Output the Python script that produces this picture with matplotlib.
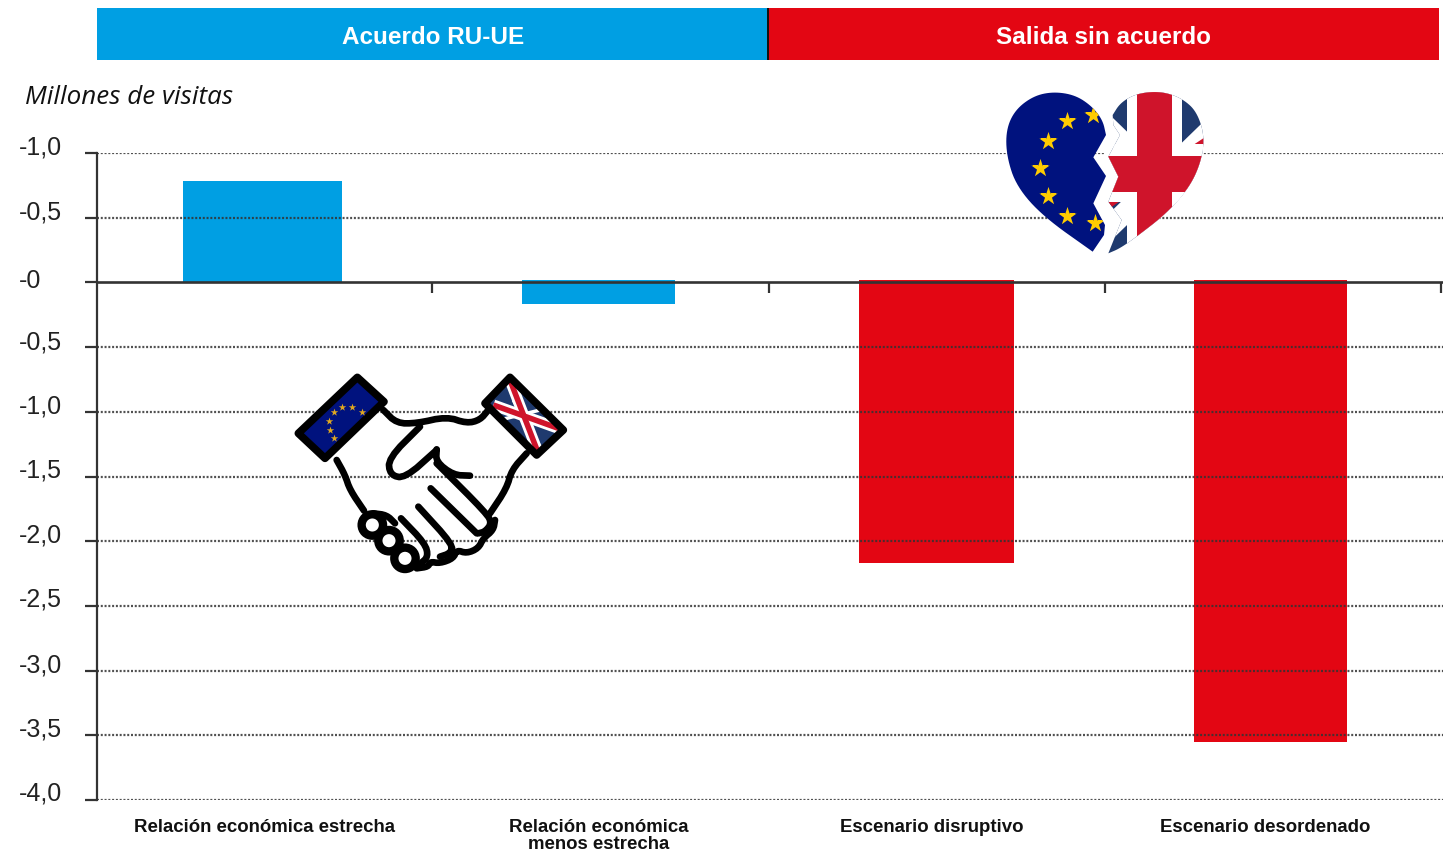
import numpy as np
import matplotlib
matplotlib.use('Agg')
import matplotlib.pyplot as plt
from matplotlib.patches import Polygon, Rectangle, Circle
from matplotlib.transforms import ScaledTranslation

# --- DATA ---
categories = ['Relación económica estrecha', 'Relación económica\nmenos estrecha',
              'Escenario disruptivo', 'Escenario desordenado']
bar_values = [0.78, -0.17, -2.17, -3.55]
bar_starts = [0.0, 0.02, 0.02, 0.02]
bar_groups = ['acuerdo', 'acuerdo', 'salida', 'salida']
group_names = ['Acuerdo RU-UE', 'Salida sin acuerdo']
y_ticks = [1.0, 0.5, 0.0, -0.5, -1.0, -1.5, -2.0, -2.5, -3.0, -3.5, -4.0]
y_labels = ['-1,0', '-0,5', '-0', '-0,5', '-1,0', '-1,5', '-2,0', '-2,5', '-3,0', '-3,5', '-4,0']

# --- LAYOUT ---
W, H = 1443, 855
BLUE = '#009fe3'
RED = '#e30613'
EU_BLUE = '#00127e'
UK_BLUE = '#1f3a6e'
UK_RED = '#cf142b'
GOLD = '#ffcc00'
DARK = '#333333'
bar_x = [-0.005, 0.993, 2.0, 2.993]
bar_w = [0.473, 0.455, 0.461, 0.455]
label_x = [0.0, 0.995, 1.985, 2.975]
label_nudge = [-8, -8, -3.5, -7, -8, -9, -8, -9, -8, -8, -9]

fig = plt.figure(figsize=(W / 100, H / 100), dpi=100, facecolor='white')
ax = fig.add_axes([97 / W, (H - 800) / H, (W - 97) / W, (800 - 153) / H])
ax.set_xlim(-0.497, 3.505)
ax.set_ylim(-4.0, 1.0)

colors = {'acuerdo': BLUE, 'salida': RED}
for x, w, start, val, grp in zip(bar_x, bar_w, bar_starts, bar_values, bar_groups):
    ax.bar(x, val - start, width=w, bottom=start, color=colors[grp], zorder=2)

# dotted grid goes over the bars, zero line is solid
for t in y_ticks:
    if t != 0:
        ax.axhline(t, color='#333333', linewidth=1.6, linestyle=(0, (0.9, 0.8)), alpha=0.85, zorder=3)
ax.axhline(0, color=DARK, linewidth=1.9, zorder=4)

for name in ['top', 'right']:
    ax.spines[name].set_visible(False)
ax.spines['left'].set_color(DARK)
ax.spines['left'].set_linewidth(1.6)
ax.spines['bottom'].set_visible(False)

ax.set_yticks(y_ticks)
ax.set_yticklabels(y_labels, fontsize=18, color='#222222', family='Liberation Sans', ha='left')
ax.tick_params(axis='y', length=8.6, width=1.6, color=DARK, pad=47.5)
for lab, dy in zip(ax.get_yticklabels(), label_nudge):
    lab.set_transform(lab.get_transform() + ScaledTranslation(0, -dy / 100, fig.dpi_scale_trans))

# separators hang off the zero line
ax.vlines([0.5, 1.5, 2.5, 3.5], -0.08, 0, color=DARK, linewidth=1.6, zorder=4)
ax.set_xticks([])

sec = ax.secondary_xaxis('bottom')
sec.set_xticks(label_x)
sec.set_xticklabels(categories, fontsize=13.4, fontweight='bold', color='#111111',
                    family='Liberation Sans', linespacing=1.05)
sec.tick_params(axis='x', length=0, pad=13.5)
sec.spines['bottom'].set_visible(False)
for lab in sec.get_xticklabels():
    lab.set_va('top')

# --- OVERLAY IN PIXEL COORDS (banner, icons) ---
ov = fig.add_axes([0, 0, 1, 1], zorder=5)
ov.set_xlim(0, W)
ov.set_ylim(H, 0)
ov.axis('off')
ov.patch.set_alpha(0)

ov.add_patch(Rectangle((97, 8), 671, 52, color=BLUE, lw=0))
ov.add_patch(Rectangle((768, 8), 671, 52, color=RED, lw=0))
ov.plot([768, 768], [8, 60], color='#111111', lw=1.4, solid_capstyle='butt')
ov.text(433.5, 37.5, group_names[0], color='white', fontsize=17.5, fontweight='bold',
        family='Liberation Sans', ha='center', va='center')
ov.text(1103, 37.5, group_names[1], color='white', fontsize=17.5, fontweight='bold',
        family='Liberation Sans', ha='center', va='center')
ov.text(25, 104, 'Millones de visitas', fontsize=18.7, style='italic', color='#111111',
        family='Open Sans', ha='left', va='baseline')


def chaikin(pts, n=3):
    pts = np.asarray(pts, dtype=float)
    for _ in range(n):
        q = 0.75 * pts[:-1] + 0.25 * pts[1:]
        r = 0.25 * pts[:-1] + 0.75 * pts[1:]
        mid = np.empty((len(q) * 2, 2))
        mid[0::2] = q
        mid[1::2] = r
        pts = np.vstack([pts[:1], mid, pts[-1:]])
    return pts


def flag_poly(pts, color, clip, z=3.1):
    p = Polygon(pts, closed=True, color=color, lw=0, zorder=z)
    ov.add_patch(p)
    p.set_clip_path(clip)


def flag_line(pts, color, lw, clip, z=3.1):
    ln, = ov.plot(pts[:, 0], pts[:, 1], color=color, lw=lw, zorder=z, solid_capstyle='butt')
    ln.set_clip_path(clip)


# --- BROKEN HEART ---
def hz(pts):
    return np.asarray(pts, dtype=float) / 3 + [980, 70]


heart_left = hz(np.vstack([
    chaikin([(338, 545), (190, 440), (110, 350), (80, 260), (78, 180), (105, 120), (160, 78),
             (220, 65), (285, 75), (335, 108), (368, 150), (378, 195)]),
    [(340, 262), (378, 318), (340, 400), (375, 465), (372, 495)]]))
heart_right = hz(np.vstack([
    chaikin([(385, 550), (420, 535), (470, 500), (560, 430), (630, 350), (665, 270), (673, 195),
             (650, 125), (610, 88), (560, 68), (510, 65), (460, 75), (420, 100), (398, 135)]),
    [(400, 165), (420, 195), (385, 260), (415, 320), (385, 395), (425, 450)]]))

# white backing so the grid stops in the crack
ov.add_patch(Polygon(hz([(340, 548), (378, 195), (400, 135), (420, 195), (385, 260), (415, 320),
                         (385, 395), (425, 450), (385, 552)]), color='white', lw=0, zorder=2.5))
ov.add_patch(Polygon(heart_right, closed=True, color='white', lw=0, zorder=3))
ov.add_patch(Polygon(heart_left, closed=True, color=EU_BLUE, lw=0, zorder=3))

stars = hz([(262, 153), (205, 212), (181, 295), (203, 378), (262, 437), (345, 460), (340, 135)])
clip_l = Polygon(heart_left, closed=True, transform=ov.transData)
sc = ov.scatter(stars[:, 0], stars[:, 1], marker='*', s=190, color=GOLD, lw=0, zorder=3.8)
sc.set_clip_path(clip_l)

clip_r = Polygon(heart_right, closed=True, transform=ov.transData)
flag_poly(hz([(380, 50), (680, 50), (680, 560), (380, 560)]), UK_BLUE, clip_r, 3.1)
flag_line(hz([(350, 510), (700, 170)]), 'white', 15, clip_r, 3.2)
flag_line(hz([(350, 140), (700, 480)]), 'white', 15, clip_r, 3.2)
flag_line(hz([(350, 432), (523, 312), (700, 195)]), UK_RED, 4, clip_r, 3.3)
flag_poly(hz([(442, 50), (605, 50), (605, 560), (442, 560)]), 'white', clip_r, 3.4)
flag_poly(hz([(380, 222), (680, 222), (680, 395), (380, 395)]), 'white', clip_r, 3.4)
flag_poly(hz([(472, 50), (575, 50), (575, 560), (472, 560)]), UK_RED, clip_r, 3.5)
flag_poly(hz([(380, 258), (680, 258), (680, 365), (380, 365)]), UK_RED, clip_r, 3.5)


# --- HANDSHAKE ---
def sz(pts):
    return np.asarray(pts, dtype=float) / 3 + [280, 360]


strokes = [
    [(310, 150), (350, 190), (410, 190), (500, 170), (560, 190), (600, 180), (625, 150)],
    [(170, 300), (195, 345), (210, 390), (252, 452)],
    [(740, 280), (695, 330), (680, 385), (630, 460)],
    [(420, 200), (325, 295), (330, 345), (375, 355), (470, 270)],
    [(470, 268), (468, 305), (520, 345), (570, 347)],
    [(470, 310), (620, 460), (635, 490), (615, 515), (595, 520)],
    [(452, 385), (590, 520)],
    [(415, 440), (520, 555), (510, 580), (480, 590)],
    [(363, 475), (435, 550), (445, 590), (420, 612)],
    [(645, 480), (640, 510), (610, 535), (595, 565), (560, 580), (530, 570), (520, 595),
     (480, 610), (450, 605), (445, 620), (410, 625)],
    [(345, 490), (320, 465), (280, 460)],
]
for s in strokes:
    pts = sz(chaikin(s, 2))
    ov.plot(pts[:, 0], pts[:, 1], color='black', lw=4.8, zorder=7,
            solid_capstyle='round', solid_joinstyle='round')
for kx, ky in [(277, 495), (327, 542), (375, 595)]:
    cx, cy = sz([(kx, ky)])[0]
    ov.add_patch(Circle((cx, cy), 10.7, facecolor='white', edgecolor='black', lw=6, zorder=8))

cuff_l = sz([(232, 52), (312, 125), (135, 295), (55, 220)])
cuff_r = sz([(690, 52), (850, 210), (770, 285), (615, 130)])
ov.add_patch(Polygon(cuff_l, closed=True, facecolor=EU_BLUE, edgecolor='black', lw=5.5,
                     joinstyle='round', zorder=9))
small = sz([(163, 155), (187, 142), (217, 142), (245, 155), (148, 182), (150, 210), (163, 235)])
ov.scatter(small[:, 0], small[:, 1], marker='*', s=32, color='#e0a820', lw=0, zorder=10)

clip_c = Polygon(cuff_r, closed=True, transform=ov.transData)
flag_poly(cuff_r, UK_BLUE, clip_c, 9.1)
flag_line(sz([(640, 135), (835, 205)]), 'white', 8, clip_c, 9.2)
flag_line(sz([(690, 60), (775, 280)]), 'white', 8, clip_c, 9.2)
flag_line(sz([(700, 120), (780, 260)]), 'white', 2.5, clip_c, 9.2)
flag_line(sz([(660, 180), (820, 140)]), 'white', 2.5, clip_c, 9.2)
flag_line(sz([(640, 135), (835, 205)]), UK_RED, 4, clip_c, 9.3)
flag_line(sz([(690, 60), (775, 280)]), UK_RED, 4, clip_c, 9.3)
ov.add_patch(Polygon(cuff_r, closed=True, facecolor='none', edgecolor='black', lw=5.5,
                     joinstyle='round', zorder=9.5))

fig.savefig('out.png', dpi=100)
